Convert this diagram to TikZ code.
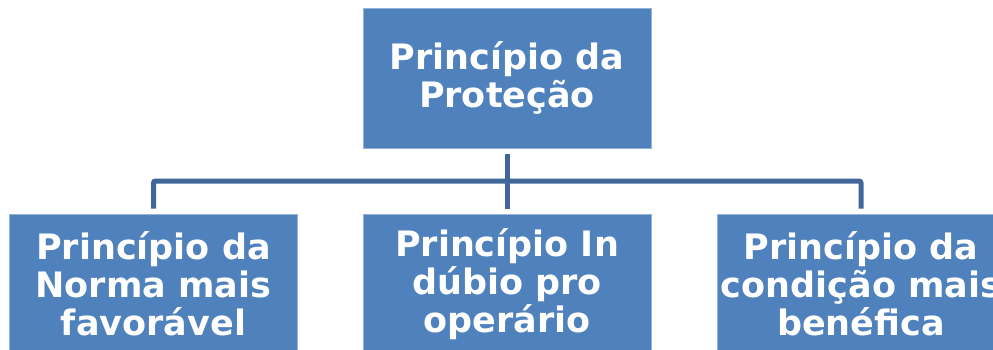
\documentclass[tikz,border=0pt]{standalone}
\usepackage{fontspec}
\setmainfont{DejaVu Sans}
\usepackage{tikz}
\usepackage{xcolor}
\usetikzlibrary{positioning}
\definecolor{boxblue}{HTML}{4F81BD}
\definecolor{linkblue}{HTML}{41679A}

\begin{document}
\begin{tikzpicture}[x=1pt,y=-1pt,
        princ/.style={draw=boxblue!60!white,line width=0.8pt,fill=boxblue,text=white,
            font=\fontsize{35}{38}\selectfont\bfseries,align=center,
            minimum width=288pt,minimum height=140pt,inner sep=0pt},
        link/.style={draw=linkblue,line width=5pt}]
        \useasboundingbox (0,0) rectangle (993,350);
        \clip (0,0) rectangle (993,350);

        \node[princ] (top) at (507,78) {Princípio da\\Proteção};
        \node[princ] (left) at (153.5,284) {Princípio da\\Norma mais\\favorável};
        \node[princ] (mid) at (507,284) {Princípio In\\dúbio pro\\operário};
        \node[princ] (right) at (861,284) {Princípio da\\condição mais\\benéfica};

        \coordinate (bus) at (507,181);
        \draw[link] ([yshift=-6pt]top.south) -- ([yshift=5pt]mid.north);
        \draw[link,rounded corners=2pt] ([yshift=5pt]left.north) |- (bus) -| ([yshift=5pt]right.north);
    \end{tikzpicture}
\end{document}
